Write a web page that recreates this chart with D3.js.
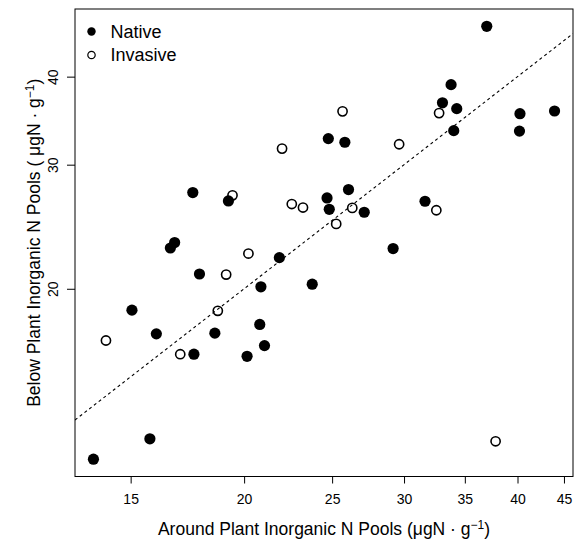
<!DOCTYPE html>
<meta charset='utf-8'>
<style>
  body {
    margin: 0;
    background: #fff;
  }
  svg {
    font-family: 'Liberation Sans', Arial, sans-serif;
  }
  .axis line {
    stroke: #000;
    stroke-width: 1;
  }
  .axis text {
    fill: #000;
  }
</style>
<body>
<script src='https://d3js.org/d3.v7.min.js'></script>
<script>
  // inorganic N pools, µgN per g: around the plant (x) and below it (y)
  const nativeAround = [37.0, 33.8, 33.07, 34.29, 34.03, 40.25, 43.94, 40.2, 31.64, 24.76, 25.82,
    19.22, 24.68, 26.06, 24.82, 27.12, 29.18, 21.87, 20.87, 23.77, 17.56, 16.77, 16.59,
    17.86, 15.05, 16.01, 18.57, 20.81, 17.61, 21.06, 20.15, 15.75, 13.65]
  const nativeBelow = [47.15, 38.97, 36.72, 36.03, 33.53, 35.44, 35.75, 33.48, 26.62, 32.67, 32.28,
    26.65, 26.91, 27.66, 25.93, 25.68, 22.81, 22.14, 20.13, 20.30, 27.39, 23.26, 22.85,
    20.99, 18.65, 17.26, 17.30, 17.80, 16.15, 16.61, 16.04, 12.25, 11.46]

  const invasiveAround = [32.79, 29.63, 32.56, 25.67, 22.02, 19.42, 22.57, 23.22, 26.31, 25.26,
    20.22, 19.11, 18.71, 14.09, 17.01, 37.84]
  const invasiveBelow = [35.51, 32.07, 25.85, 35.71, 31.62, 27.14, 26.38, 26.08, 26.05, 24.72,
    22.44, 20.95, 18.61, 16.89, 16.15, 12.15]

  const groups = ['Native', 'Invasive']
  const xTicks = [15, 20, 25, 30, 35, 40, 45]
  const yTicks = [20, 30, 40]

  const W = 577, H = 542
  const margin = {top: 9, right: 4, bottom: 65.5, left: 75}
  const width = W - margin.left - margin.right
  const height = H - margin.top - margin.bottom

  // R style: data range widened by 4% on each side (log space here)
  function pad(vals) {
    const lo = Math.log10(d3.min(vals)), hi = Math.log10(d3.max(vals))
    const d = (hi - lo) * 0.04
    return [10 ** (lo - d), 10 ** (hi + d)]
  }

  const x = d3.scaleLog().domain(pad(nativeAround.concat(invasiveAround))).range([0, width])
  const y = d3.scaleLog().domain(pad(nativeBelow.concat(invasiveBelow))).range([height, 0])

  const svg = d3.select('body')
    .append('svg')
    .attr('width', W)
    .attr('height', H)

  const g = svg.append('g')
    .attr('transform', `translate(${margin.left}, ${margin.top})`)

  g.append('clipPath')
    .attr('id', 'clip')
    .append('rect')
    .attr('width', width)
    .attr('height', height)

  // x axis
  const xAxis = d3.axisBottom(x)
    .tickValues(xTicks)
    .tickFormat(d3.format('d'))
    .tickSizeOuter(0)
    .tickSize(7)
    .tickPadding(10.5)

  g.append('g')
    .attr('class', 'axis')
    .attr('transform', `translate(0, ${height})`)
    .call(xAxis)
    .call(s => s.select('.domain').remove())
    .selectAll('text')
    .style('font-size', '14px')

  // y axis, labels turned like R's las = 0
  const yAxis = d3.axisLeft(y)
    .tickValues(yTicks)
    .tickFormat(d3.format('d'))
    .tickSizeOuter(0)
    .tickSize(8)

  g.append('g')
    .attr('class', 'axis')
    .call(yAxis)
    .call(s => s.select('.domain').remove())
    .selectAll('text')
    .attr('transform', 'rotate(-90)')
    .attr('x', 0)
    .attr('y', -17)
    .attr('dy', 0)
    .attr('text-anchor', 'middle')
    .style('font-size', '14px')

  // 1:1 line
  const dom = x.domain()
  const line = d3.line()
    .x(d => x(d))
    .y(d => y(d))

  g.append('path')
    .attr('clip-path', 'url(#clip)')
    .attr('d', line(dom))
    .attr('fill', 'none')
    .attr('stroke', '#000')
    .attr('stroke-width', 1.1)
    .attr('stroke-dasharray', '3,3')

  // points
  const invasive = invasiveAround.map((v, i) => [v, invasiveBelow[i]])
  const native = nativeAround.map((v, i) => [v, nativeBelow[i]])

  g.append('g')
    .selectAll('circle')
    .data(invasive)
    .join('circle')
    .attr('cx', d => x(d[0]))
    .attr('cy', d => y(d[1]))
    .attr('r', 4.6)
    .attr('fill', 'none')
    .attr('stroke', '#000')
    .attr('stroke-width', 1.6)

  g.append('g')
    .selectAll('circle')
    .data(native)
    .join('circle')
    .attr('cx', d => x(d[0]))
    .attr('cy', d => y(d[1]))
    .attr('r', 5.6)
    .attr('fill', '#000')

  // frame
  g.append('rect')
    .attr('width', width)
    .attr('height', height)
    .attr('fill', 'none')
    .attr('stroke', '#000')
    .attr('stroke-width', 1)

  // legend
  const legend = g.append('g')
    .attr('transform', 'translate(16.5, 22.5)')

  const item = legend.selectAll('g')
    .data(groups)
    .join('g')
    .attr('transform', (d, i) => `translate(0, ${i * 23.5})`)

  item.append('circle')
    .attr('r', d => d === 'Native' ? 4.2 : 3.7)
    .attr('fill', d => d === 'Native' ? '#000' : 'none')
    .attr('stroke', '#000')
    .attr('stroke-width', d => d === 'Native' ? 0 : 1.2)

  item.append('text')
    .attr('x', 19)
    .attr('dy', '0.35em')
    .style('font-size', '18px')
    .text(d => d)

  // axis titles
  const xTitle = svg.append('text')
    .attr('x', margin.left + width / 2)
    .attr('y', 535)
    .attr('text-anchor', 'middle')
    .style('font-size', '17.5px')
  xTitle.append('tspan').text('Around Plant Inorganic N Pools (\u03bcgN \u00b7 g')
  xTitle.append('tspan').attr('dy', -6.5).style('font-size', '12px').text('\u22121')
  xTitle.append('tspan').attr('dy', 6.5).text(')')

  const yTitle = svg.append('text')
    .attr('transform', `translate(40, ${margin.top + height / 2}) rotate(-90)`)
    .attr('text-anchor', 'middle')
    .style('font-size', '17.5px')
  yTitle.append('tspan').text('Below Plant Inorganic N Pools ( \u03bcgN \u00b7 g')
  yTitle.append('tspan').attr('dy', -6.5).style('font-size', '12px').text('\u22121')
  yTitle.append('tspan').attr('dy', 6.5).text(')')
</script>
</body>
